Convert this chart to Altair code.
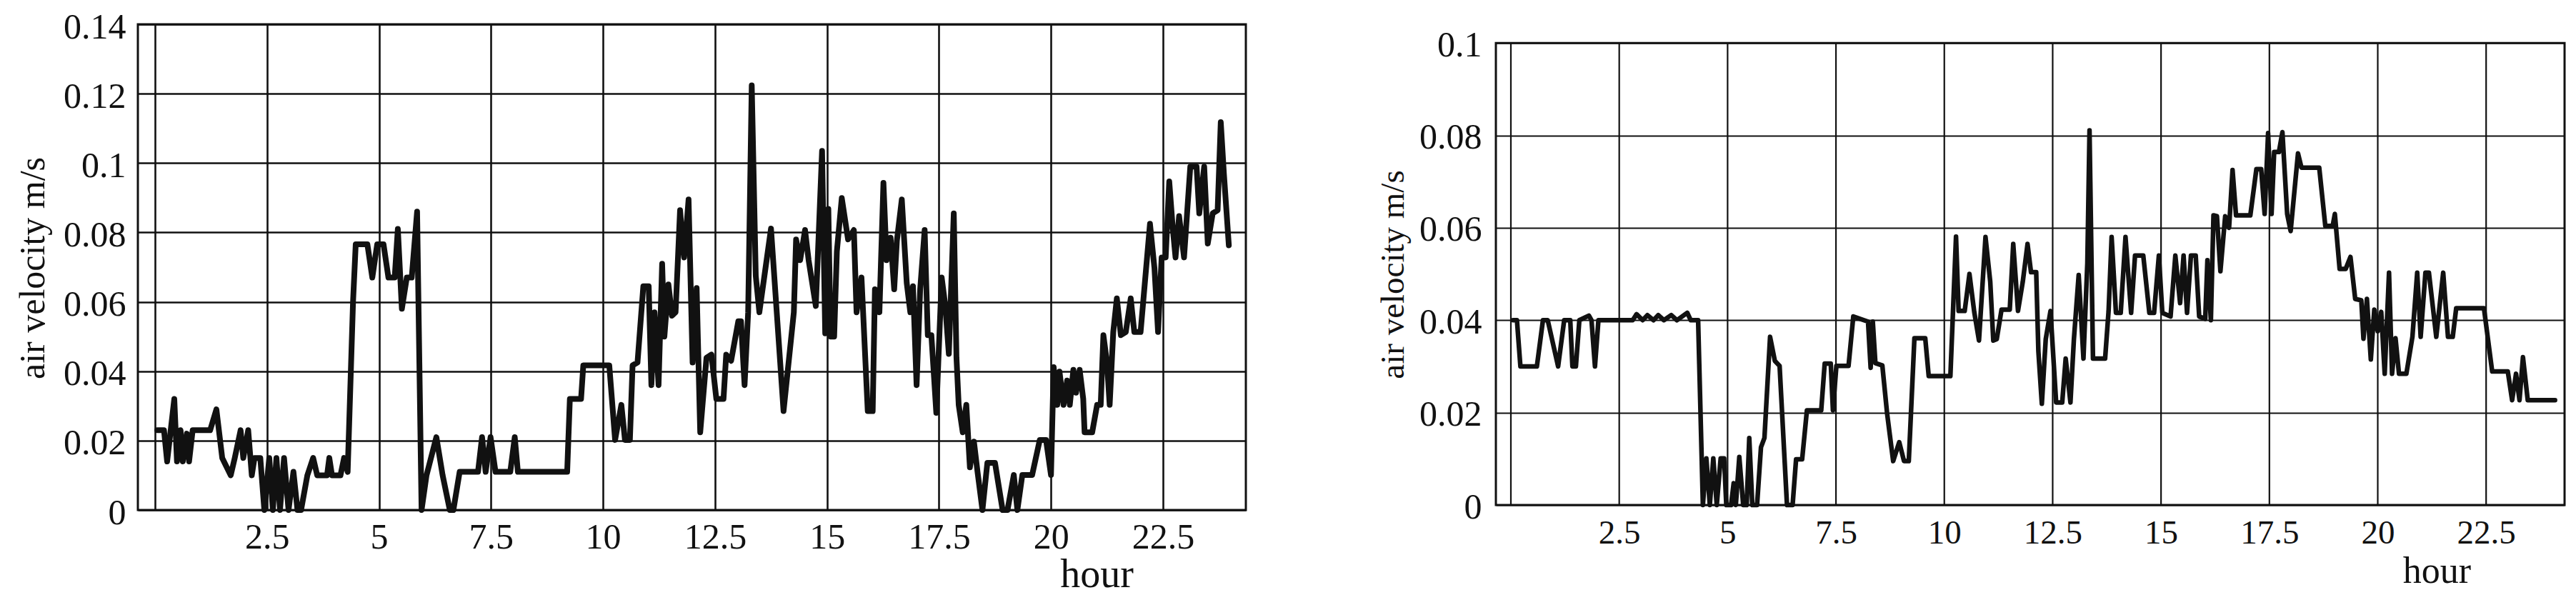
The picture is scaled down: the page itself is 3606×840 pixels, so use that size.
import altair as alt
import pandas as pd

# ---- data ----
hours_a = [0.05,0.20,0.27,0.43,0.49,0.57,0.62,0.71,0.76,0.84,1.23,1.37,1.50,1.69,1.78,1.91,1.97,2.08,2.16,2.22,
           2.35,2.44,2.55,2.63,2.71,2.79,2.88,2.98,3.09,3.18,3.26,3.40,3.53,3.62,3.84,3.89,3.95,4.14,4.22,4.30,
           4.42,4.48,4.74,4.85,4.96,5.10,5.21,5.35,5.42,5.51,5.62,5.73,5.85,5.95,6.06,6.28,6.42,6.58,6.66,6.80,
           7.21,7.30,7.38,7.49,7.60,7.93,8.03,8.10,9.20,9.26,9.51,9.56,10.14,10.27,10.41,10.49,10.60,10.66,10.77,10.90,
           11.02,11.08,11.15,11.24,11.32,11.37,11.46,11.54,11.62,11.72,11.81,11.91,12.00,12.09,12.17,12.31,12.42,12.53,12.69,12.75,
           12.86,13.02,13.08,13.16,13.24,13.32,13.41,13.49,13.75,14.03,14.26,14.31,14.40,14.51,14.59,14.75,14.89,14.96,15.03,15.08,
           15.16,15.22,15.33,15.47,15.60,15.66,15.77,15.91,16.02,16.07,16.17,16.26,16.33,16.42,16.50,16.56,16.67,16.78,16.86,16.92,
           17.00,17.08,17.18,17.25,17.33,17.44,17.56,17.64,17.72,17.83,17.89,17.94,18.03,18.11,18.19,18.28,18.36,18.47,18.58,18.75,
           18.92,19.03,19.17,19.25,19.36,19.58,19.75,19.89,20.00,20.06,20.14,20.19,20.28,20.36,20.42,20.50,20.56,20.64,20.72,20.75,
           20.92,21.03,21.11,21.17,21.25,21.31,21.39,21.47,21.56,21.67,21.78,21.86,22.00,22.21,22.31,22.39,22.47,22.56,22.64,22.72,
           22.78,22.86,22.97,23.11,23.25,23.31,23.42,23.50,23.61,23.72,23.79,23.86,23.97]
velocity_a = [0.023,0.023,0.014,0.032,0.014,0.023,0.014,0.022,0.014,0.023,0.023,0.029,0.015,0.010,0.015,0.023,0.015,0.023,0.010,0.015,
              0.015,0.0,0.015,0.0,0.015,0.0,0.015,0.0,0.011,0.0,0.0,0.010,0.015,0.010,0.010,0.015,0.010,0.010,0.015,0.011,
              0.060,0.0766,0.0766,0.067,0.0766,0.0766,0.067,0.067,0.081,0.058,0.067,0.067,0.086,0.0,0.010,0.021,0.010,0.0,0.0,0.011,
              0.011,0.021,0.011,0.021,0.011,0.011,0.021,0.011,0.011,0.032,0.032,0.0417,0.0417,0.0202,0.0303,0.0202,0.0202,0.0417,0.0425,0.0645,
              0.0645,0.036,0.057,0.036,0.071,0.050,0.065,0.056,0.057,0.0864,0.0728,0.0895,0.0425,0.0640,0.0224,0.0439,0.0448,0.032,0.032,0.0448,
              0.043,0.0544,0.0544,0.036,0.057,0.1224,0.0675,0.057,0.0811,0.0285,0.057,0.078,0.072,0.0807,0.072,0.0588,0.1035,0.0509,0.0868,0.0500,
              0.0500,0.0745,0.0899,0.078,0.0807,0.057,0.067,0.0285,0.0285,0.0636,0.057,0.0943,0.072,0.0785,0.0636,0.0776,0.0895,0.0654,0.057,0.0645,
              0.036,0.0636,0.0807,0.0504,0.0504,0.028,0.067,0.059,0.045,0.0855,0.044,0.0303,0.0224,0.0303,0.0123,0.0197,0.0110,0.0,0.0136,0.0136,
              0.0,0.0,0.0101,0.0,0.0101,0.0101,0.0202,0.0202,0.0101,0.0412,0.0303,0.0399,0.0303,0.0373,0.0303,0.0404,0.0338,0.0404,0.0320,0.0224,
              0.0224,0.0303,0.0303,0.0504,0.0425,0.0303,0.0513,0.0610,0.0504,0.0513,0.0610,0.0513,0.0513,0.0825,0.0697,0.0513,0.0728,0.0728,0.0947,0.081,
              0.0728,0.0847,0.0728,0.0990,0.0990,0.0855,0.0990,0.0768,0.0855,0.0864,0.1118,0.0969,0.0763]

hours_b = [0.05,0.14,0.22,0.60,0.74,0.85,1.09,1.23,1.37,1.42,1.50,1.58,1.80,1.86,1.94,2.02,2.81,2.90,3.04,3.15,
           3.29,3.40,3.53,3.70,3.83,4.07,4.15,4.32,4.43,4.51,4.59,4.67,4.75,4.84,4.92,4.97,5.08,5.14,5.19,5.27,
           5.36,5.44,5.50,5.57,5.68,5.77,5.85,5.98,6.09,6.20,6.37,6.50,6.58,6.72,6.83,7.16,7.24,7.38,7.43,7.51,
           7.79,7.90,8.24,8.30,8.35,8.41,8.57,8.68,8.82,8.96,9.07,9.18,9.31,9.56,9.64,10.14,10.27,10.33,10.47,10.58,
           10.69,10.80,10.95,11.06,11.13,11.21,11.32,11.51,11.59,11.70,11.81,11.92,12.00,12.12,12.17,12.25,12.34,12.45,12.58,12.72,
           12.80,12.91,12.99,13.10,13.21,13.30,13.35,13.43,13.71,13.79,13.86,13.96,14.07,14.18,14.31,14.40,14.59,14.73,14.84,14.95,
           15.03,15.22,15.33,15.44,15.52,15.60,15.69,15.80,15.88,16.02,16.07,16.15,16.21,16.29,16.37,16.48,16.57,16.65,16.73,17.06,
           17.20,17.31,17.39,17.47,17.55,17.61,17.72,17.80,17.91,17.99,18.16,18.24,18.65,18.79,18.96,19.01,19.12,19.26,19.37,19.48,
           19.62,19.67,19.75,19.84,19.92,20.00,20.08,20.16,20.26,20.33,20.41,20.49,20.66,20.80,20.91,20.99,21.10,21.18,21.35,21.51,
           21.62,21.73,21.81,22.45,22.64,23.00,23.10,23.19,23.27,23.35,23.46,24.09]
velocity_b = [0.040,0.040,0.030,0.030,0.040,0.040,0.030,0.040,0.040,0.030,0.030,0.040,0.041,0.040,0.030,0.040,0.040,0.0413,0.040,0.0411,
              0.040,0.0411,0.040,0.0411,0.040,0.0416,0.040,0.040,0.0,0.0101,0.0,0.0101,0.0,0.0101,0.0101,0.0,0.0,0.0047,0.0,0.0104,
              0.0,0.0,0.0145,0.0,0.0,0.0125,0.0145,0.0364,0.0312,0.0301,0.0,0.0,0.0099,0.0099,0.0205,0.0205,0.0306,0.0306,0.0205,0.0301,
              0.0301,0.0408,0.0397,0.0297,0.0397,0.0307,0.0302,0.0198,0.0095,0.0136,0.0095,0.0095,0.0361,0.0361,0.0279,0.0279,0.0581,0.042,0.042,0.050,
              0.0418,0.0356,0.058,0.0483,0.0356,0.0359,0.0423,0.0423,0.0565,0.042,0.0483,0.0565,0.0504,0.0504,0.0333,0.0219,0.0359,0.042,0.0222,0.0222,
              0.0317,0.0222,0.0359,0.0498,0.0317,0.0524,0.0811,0.0317,0.0317,0.042,0.058,0.0416,0.0416,0.058,0.0416,0.054,0.054,0.0416,0.0416,0.054,
              0.0416,0.0408,0.054,0.0437,0.054,0.0416,0.054,0.054,0.0408,0.0403,0.053,0.040,0.0627,0.0625,0.0506,0.0625,0.060,0.0725,0.0627,0.0627,
              0.0727,0.0727,0.0630,0.0805,0.0630,0.0764,0.0764,0.0807,0.0630,0.0593,0.0761,0.0730,0.0730,0.0604,0.0604,0.0630,0.0511,0.0511,0.0537,0.0446,
              0.0443,0.0360,0.0446,0.0315,0.0423,0.0376,0.0418,0.0284,0.0503,0.0284,0.0361,0.0284,0.0284,0.0364,0.0503,0.0364,0.0503,0.0503,0.0364,0.0503,
              0.0364,0.0364,0.0426,0.0426,0.0289,0.0289,0.0227,0.0284,0.0227,0.0320,0.0227,0.0227]

hour_ticks = [0, 2.5, 5, 7.5, 10, 12.5, 15, 17.5, 20, 22.5]
vel_ticks_a = [0, 0.02, 0.04, 0.06, 0.08, 0.1, 0.12, 0.14]
vel_ticks_b = [0, 0.02, 0.04, 0.06, 0.08, 0.1]
y_title = "air velocity m/s"
x_title = "hour"

FONT = "Liberation Serif"
INK = "#111111"

df_a = pd.DataFrame({"hour": hours_a, "v": velocity_a})
df_b = pd.DataFrame({"hour": hours_b, "v": velocity_b})

x_label_expr = "datum.value == 0 ? '' : format(datum.value, '~g')"

# ---------------- left panel (plain frame from the view) ----------------
xdom_a = [-0.383, 24.35]
left = alt.Chart(df_a).mark_line(
    color=INK, strokeWidth=8, strokeJoin="round", strokeCap="round"
).encode(
    x=alt.X(
        "hour:Q",
        scale=alt.Scale(domain=xdom_a, nice=False, zero=False),
        axis=alt.Axis(
            values=hour_ticks, grid=True, gridColor=INK, gridWidth=2.6, gridOpacity=1,
            ticks=False, domain=False, labelExpr=x_label_expr,
            labelFont=FONT, labelFontSize=50, labelColor=INK, labelPadding=13,
            labelFlush=False, labelOverlap=False,
            title=x_title, titleFont=FONT, titleFontSize=56, titleFontWeight="normal",
            titleColor=INK, titleX=1342, titleY=107, titleAlign="center",
            titleBaseline="alphabetic",
        ),
    ),
    y=alt.Y(
        "v:Q",
        scale=alt.Scale(domain=[0, 0.14], nice=False, zero=True),
        axis=alt.Axis(
            values=vel_ticks_a, grid=True, gridColor=INK, gridWidth=2.6, gridOpacity=1,
            ticks=False, domain=False, format="~g",
            labelFont=FONT, labelFontSize=50, labelColor=INK, labelPadding=17,
            labelOffset=4, labelFlush=False, labelOverlap=False,
            title=y_title, titleFont=FONT, titleFontSize=50, titleFontWeight="normal",
            titleColor=INK, titleAngle=270, titleX=-147, titleY=341,
            titleAlign="center", titleBaseline="middle",
        ),
    ),
).properties(width=1551, height=680)

# ---------------- right panel (frame drawn lower than the left one) ----------------
xdom_b = [-0.346, 24.31]
ytop_b = 0.1           # frame top value
ydom_b = [0, 0.10405]  # plot area reaches a bit above the frame
frame_b = pd.DataFrame({"x0": [xdom_b[0]], "x1": [xdom_b[1]], "y0": [0.0], "y1": [ytop_b]})
vgrid_b = pd.DataFrame({"hour": hour_ticks, "lo": [0.0] * len(hour_ticks), "hi": [ytop_b] * len(hour_ticks)})

xs_b = alt.Scale(domain=xdom_b, nice=False, zero=False)
ys_b = alt.Scale(domain=ydom_b, nice=False, zero=True)

x_axis_b = alt.Axis(
    values=hour_ticks, grid=False,
    ticks=False, domain=False, labelExpr=x_label_expr,
    labelFont=FONT, labelFontSize=47, labelColor=INK, labelPadding=16,
    labelFlush=False, labelOverlap=False,
    title=x_title, titleFont=FONT, titleFontSize=52, titleFontWeight="normal",
    titleColor=INK, titleX=1317, titleY=108, titleAlign="center",
    titleBaseline="alphabetic",
)
y_axis_b = alt.Axis(
    values=vel_ticks_b, grid=True, gridColor=INK, gridWidth=2.2, gridOpacity=1,
    ticks=False, domain=False, format="~g",
    labelFont=FONT, labelFontSize=50, labelColor=INK, labelPadding=20,
    labelOffset=3, labelFlush=False, labelOverlap=False,
    title=y_title, titleFont=FONT, titleFontSize=47, titleFontWeight="normal",
    titleColor=INK, titleAngle=270, titleX=-144, titleY=350,
    titleAlign="center", titleBaseline="middle",
)

line_b = alt.Chart(df_b).mark_line(
    color=INK, strokeWidth=6.5, strokeJoin="round", strokeCap="round"
).encode(
    x=alt.X("hour:Q", scale=xs_b, axis=x_axis_b),
    y=alt.Y("v:Q", scale=ys_b, axis=y_axis_b),
)

vrules_b = alt.Chart(vgrid_b).mark_rule(color=INK, strokeWidth=2.2).encode(
    x=alt.X("hour:Q", scale=xs_b, axis=x_axis_b),
    y=alt.Y("lo:Q", scale=ys_b, axis=y_axis_b),
    y2="hi:Q",
)

box_b = alt.Chart(frame_b).mark_rect(
    fill="transparent", stroke=INK, strokeWidth=3
).encode(
    x=alt.X("x0:Q", scale=xs_b, axis=x_axis_b),
    x2="x1:Q",
    y=alt.Y("y0:Q", scale=ys_b, axis=y_axis_b),
    y2="y1:Q",
)

right = alt.layer(line_b, vrules_b, box_b).properties(
    width=1496, height=673, view=alt.ViewBackground(stroke="transparent")
)

chart = alt.hconcat(left, right, spacing=178, bounds="full").properties(
    padding={"left": 11, "top": 3, "right": 5, "bottom": 0},
    background="white",
).configure_view(stroke=INK, strokeWidth=3)

chart.save("out.html", embed_options={"renderer": "svg", "actions": False})
